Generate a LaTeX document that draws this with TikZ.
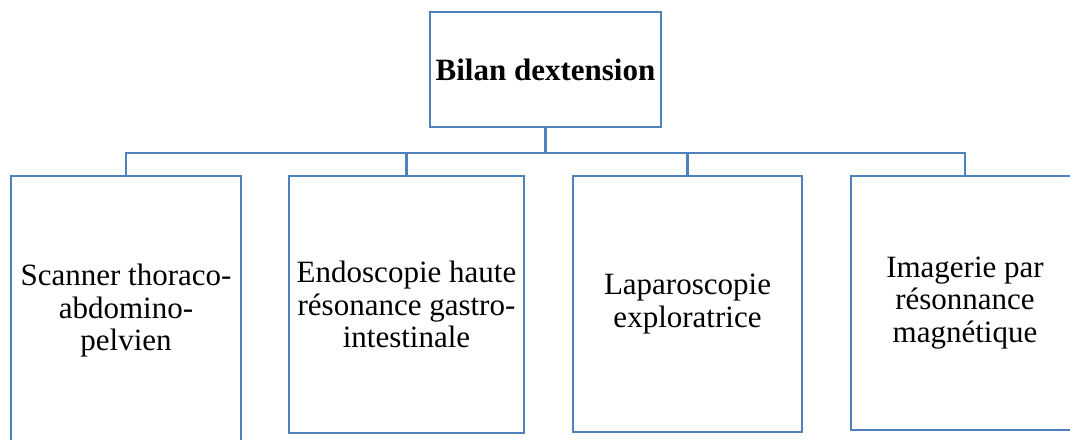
\documentclass[tikz,border=0pt]{standalone}
\usepackage{fontspec}
\setmainfont{Liberation Serif}
\usetikzlibrary{positioning,calc}
\definecolor{boxblue}{RGB}{79,129,189}

\begin{document}
\begin{tikzpicture}[x=1pt,y=-1pt,
  box/.style={rectangle,draw=boxblue,line width=2.4pt,fill=white,align=center,inner sep=0pt,font=\fontsize{31}{32.5}\selectfont},
  link/.style={draw=boxblue,line width=2.4pt}]
\useasboundingbox (0,0) rectangle (1070,439);
\node[box,minimum width=231pt,minimum height=115pt] (bilan) at (545.5,69.5) {\bfseries Bilan dextension};
\node[box,minimum width=230pt,minimum height=270pt] (scan) at (126,311) {Scanner thoraco-\\abdomino-\\pelvien};
\node[box,minimum width=235pt,minimum height=257pt] (endo) at (406.5,304.5) {Endoscopie haute\\résonance gastro-\\intestinale};
\node[box,minimum width=229pt,minimum height=256pt] (lapa) at (687.5,304) {Laparoscopie\\exploratrice};
\node[box,minimum width=228pt,minimum height=254pt] (irm) at (965,303) {Imagerie par\\résonnance\\magnétique};
\coordinate (bus) at ($(bilan.south)+(0,25)$);
\draw[link] (bilan.south) -- (bus);
\foreach \t in {scan,endo,lapa,irm}
  \draw[link] (bus) -| (\t.north);
\end{tikzpicture}
\end{document}
